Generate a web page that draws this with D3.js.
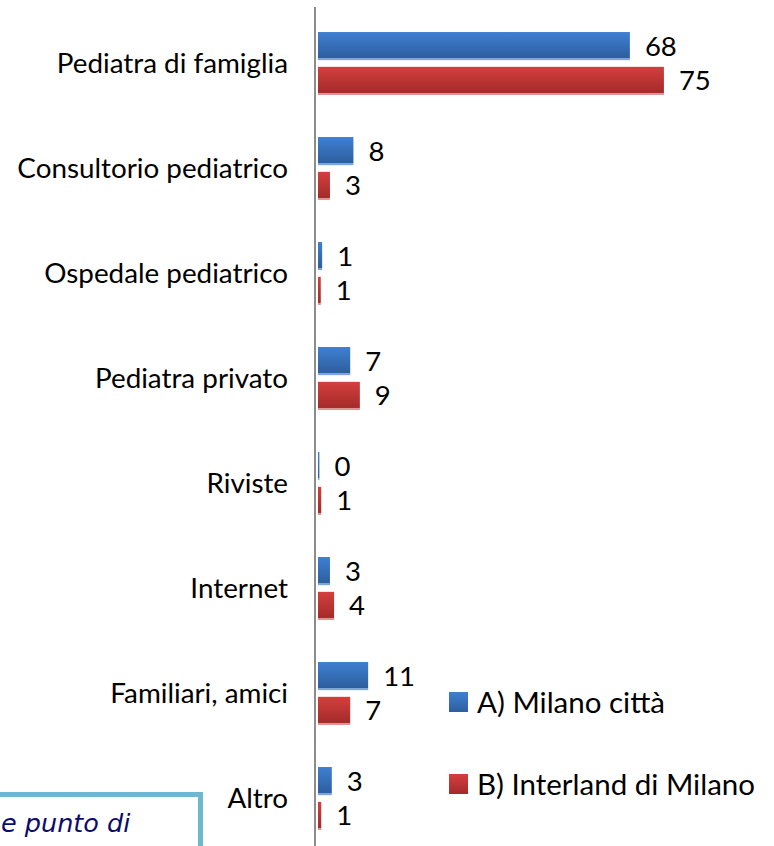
<!DOCTYPE html>
<html>
<head>
<meta charset="utf-8">
<script src="https://cdn.jsdelivr.net/npm/d3@7"></script>
<style>
  html, body { margin: 0; padding: 0; background: #ffffff; }
  svg { display: block; }
</style>
</head>
<body>
<svg id="chart" width="774" height="846"></svg>
<script>
// ---- data ----
const categories = [
  "Pediatra di famiglia",
  "Consultorio pediatrico",
  "Ospedale pediatrico",
  "Pediatra privato",
  "Riviste",
  "Internet",
  "Familiari, amici",
  "Altro"
];
const seriesNames = ["A) Milano città", "B) Interland di Milano"];
const milanoCitta = [67.8, 7.7, 0.9, 7.0, 0.3, 2.6, 10.9, 3.0];
const interland   = [75.2, 2.6, 0.6, 9.1, 0.7, 3.5, 7.0, 0.7];
const noteText = "e punto di";

// ---- layout ----
const svg = d3.select("#chart");
const W = 774, H = 846;
const fontMain = "Lato, 'Open Sans', sans-serif";

const x = d3.scaleLinear().domain([0, 80]).range([318, 318 + 80 * 4.6]);
const y0 = d3.scaleBand().domain(categories).range([10.5, 850.5])
  .paddingInner(0.41).paddingOuter(0.205);
const y1 = d3.scaleBand().domain(seriesNames).range([0, y0.bandwidth()]).paddingInner(0.22);

const colors = {
  [seriesNames[0]]: { top: "#3f80d2", bottom: "#2d5e9e", edge: "#5c8fd0" },
  [seriesNames[1]]: { top: "#d43f3e", bottom: "#a32b2a", edge: "#d67a78" }
};

const defs = svg.append("defs");
seriesNames.forEach((s, i) => {
  const g = defs.append("linearGradient").attr("id", "grad" + i)
    .attr("x1", 0).attr("y1", 0).attr("x2", 0).attr("y2", 1);
  g.append("stop").attr("offset", "0%").attr("stop-color", colors[s].top);
  g.append("stop").attr("offset", "100%").attr("stop-color", colors[s].bottom);
});

const data = categories.map((c, i) => ({
  cat: c,
  vals: [
    { s: seriesNames[0], v: milanoCitta[i], idx: 0 },
    { s: seriesNames[1], v: interland[i], idx: 1 }
  ]
}));

// axis line
svg.append("line")
  .attr("x1", 315).attr("x2", 315)
  .attr("y1", 7).attr("y2", H)
  .attr("stroke", "#8c8c8c").attr("stroke-width", 2);

// groups
const groups = svg.selectAll("g.grp").data(data).enter().append("g")
  .attr("class", "grp")
  .attr("transform", d => `translate(0,${y0(d.cat)})`);

// bottom soft edge (shadow)
groups.selectAll("rect.shadow").data(d => d.vals).enter().append("rect")
  .attr("class", "shadow")
  .attr("x", x(0))
  .attr("y", d => y1(d.s) + y1.bandwidth() - 1)
  .attr("width", d => Math.max(1, x(d.v) - x(0)))
  .attr("height", 2)
  .attr("fill", d => colors[d.s].edge)
  .attr("opacity", 0.8);

groups.selectAll("rect.bar").data(d => d.vals).enter().append("rect")
  .attr("class", "bar")
  .attr("x", x(0))
  .attr("y", d => y1(d.s))
  .attr("width", d => Math.max(1, x(d.v) - x(0)))
  .attr("height", y1.bandwidth() - 1)
  .attr("fill", d => `url(#grad${d.idx})`);

const fmt = d3.format(".0f");
groups.selectAll("text.val").data(d => d.vals).enter().append("text")
  .attr("class", "val")
  .attr("x", d => x(d.v) + 15)
  .attr("y", d => y1(d.s) + y1.bandwidth() / 2 + 10)
  .attr("font-family", fontMain)
  .attr("font-size", 27.5)
  .attr("fill", "#000")
  .text(d => fmt(d.v));

// category labels
svg.selectAll("text.cat").data(categories).enter().append("text")
  .attr("class", "cat")
  .attr("x", 288)
  .attr("y", d => y0(d) + y0.bandwidth() / 2 + 10)
  .attr("text-anchor", "end")
  .attr("font-family", fontMain)
  .attr("font-size", 27.8)
  .attr("fill", "#000")
  .text(d => d);

// legend
const legend = svg.append("g").attr("transform", "translate(449,692)");
const lg = legend.selectAll("g").data(seriesNames).enter().append("g")
  .attr("transform", (d, i) => `translate(0,${i * 82})`);
lg.append("rect").attr("width", 19).attr("height", 20)
  .attr("fill", (d, i) => `url(#grad${i})`);
lg.append("text").attr("x", 28).attr("y", 21)
  .attr("font-family", fontMain).attr("font-size", 29.5).attr("fill", "#000")
  .text(d => d);

// partially visible note box (bottom-left)
svg.append("rect")
  .attr("x", -10).attr("y", 794.5)
  .attr("width", 210.5).attr("height", 100)
  .attr("fill", "#fff")
  .attr("stroke", "#6bb8cf").attr("stroke-width", 5);
svg.append("text")
  .attr("x", 1).attr("y", 832)
  .attr("font-family", "'DejaVu Sans', sans-serif")
  .attr("font-style", "italic")
  .attr("font-size", 25.5)
  .attr("fill", "#0b0b6b")
  .text(noteText);
</script>
</body>
</html>
